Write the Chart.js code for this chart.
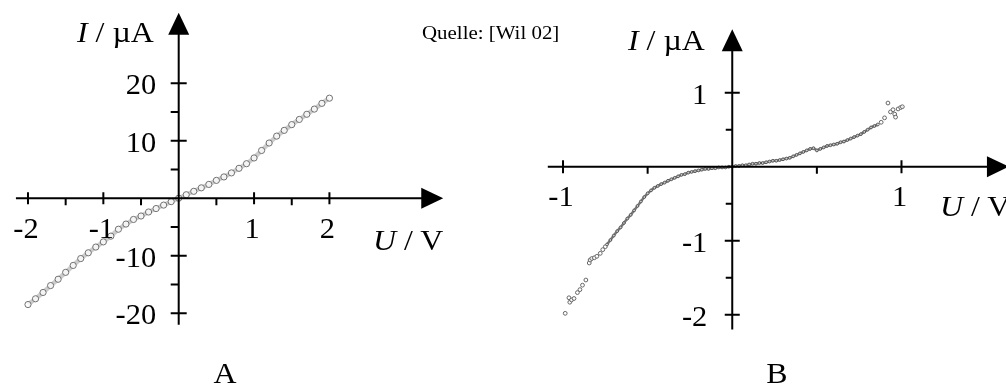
<!DOCTYPE html>
<html>
<head>
<meta charset="utf-8">
<script src="https://cdn.jsdelivr.net/npm/chart.js@4/dist/chart.umd.min.js"></script>
<style>
  html, body { margin: 0; padding: 0; background: #fff; width: 1006px; height: 388px; overflow: hidden; }
  .panel { position: absolute; top: 0; height: 388px; }
  #boxA { left: 0; width: 470px; }
  #boxB { left: 480px; width: 526px; }
  .lbl { position: absolute; font-family: "Liberation Serif", "Times New Roman", serif; color: #000;
         white-space: nowrap; line-height: 1; transform-origin: left center; z-index: 2; }
  .title { font-size: 29px; transform: scaleX(1.1); }
  .letter { font-size: 29px; transform: translateX(-50%) scaleX(1.1); transform-origin: center; }
  .src { font-size: 19px; transform: scaleX(1.1); }
</style>
</head>
<body>
<div class="panel" id="boxA"><canvas id="chartA" width="470" height="388"></canvas></div>
<div class="panel" id="boxB"><canvas id="chartB" width="526" height="388"></canvas></div>

<div class="lbl src" style="left:422px;top:23px;">Quelle: [Wil 02]</div>
<div class="lbl title" style="left:77px;top:18px;"><i>I</i> / µA</div>
<div class="lbl title" style="left:373px;top:226px;"><i>U</i> / V</div>
<div class="lbl letter" style="left:225px;top:359px;">A</div>
<div class="lbl title" style="left:628px;top:26px;"><i>I</i> / µA</div>
<div class="lbl title" style="left:940px;top:192px;"><i>U</i> / V</div>
<div class="lbl letter" style="left:777px;top:359px;">B</div>

<script>
// ---- Kennlinie A: U in V, I in µA ----
const voltageA = [-2.0, -1.9, -1.8, -1.7, -1.6, -1.5, -1.4, -1.3, -1.2, -1.1, -1.0,
                  -0.9, -0.8, -0.7, -0.6, -0.5, -0.4, -0.3, -0.2, -0.1, 0.0,
                  0.1, 0.2, 0.3, 0.4, 0.5, 0.6, 0.7, 0.8, 0.9, 1.0,
                  1.1, 1.2, 1.3, 1.4, 1.5, 1.6, 1.7, 1.8, 1.9, 2.0];
const currentA = [-18.5, -17.5, -16.4, -15.2, -14.1, -12.9, -11.7, -10.5, -9.5, -8.5, -7.6,
                  -6.6, -5.4, -4.5, -3.7, -3.1, -2.4, -1.8, -1.2, -0.6, 0.0,
                  0.6, 1.2, 1.8, 2.4, 3.1, 3.7, 4.4, 5.2, 6.0, 7.0,
                  8.3, 9.6, 10.8, 11.8, 12.8, 13.7, 14.6, 15.5, 16.5, 17.4];

// ---- Kennlinie B: dichte Messreihe ----
const voltageB = [-0.74, -0.72, -0.70, -0.68, -0.66, -0.64, -0.62, -0.60, -0.58, -0.56,
                  -0.54, -0.52, -0.50, -0.48, -0.46, -0.44, -0.42, -0.40, -0.38, -0.36,
                  -0.34, -0.32, -0.30, -0.28, -0.26, -0.24, -0.22, -0.20, -0.18, -0.16,
                  -0.14, -0.12, -0.10, -0.08, -0.06, -0.04, -0.02, 0.00, 0.02, 0.04,
                  0.06, 0.08, 0.10, 0.12, 0.14, 0.16, 0.18, 0.20, 0.22, 0.24,
                  0.26, 0.28, 0.30, 0.32, 0.34, 0.36, 0.38, 0.40, 0.42, 0.44,
                  0.46, 0.48, 0.50, 0.52, 0.54, 0.56, 0.58, 0.60, 0.62, 0.64,
                  0.66, 0.68, 0.70, 0.72, 0.74, 0.76, 0.78, 0.80, 0.82, 0.84, 0.86];
const currentB = [-1.05, -0.99, -0.93, -0.87, -0.82, -0.76, -0.70, -0.65, -0.59, -0.53,
                  -0.47, -0.41, -0.36, -0.32, -0.285, -0.26, -0.235, -0.215, -0.19, -0.17,
                  -0.15, -0.13, -0.11, -0.10, -0.08, -0.07, -0.06, -0.05, -0.04, -0.03,
                  -0.03, -0.02, -0.02, -0.01, -0.01, -0.01, 0.00, 0.00, 0.01, 0.01,
                  0.02, 0.02, 0.03, 0.04, 0.04, 0.05, 0.05, 0.06, 0.07, 0.08,
                  0.08, 0.09, 0.10, 0.11, 0.12, 0.14, 0.16, 0.18, 0.20, 0.22,
                  0.24, 0.25, 0.22, 0.24, 0.26, 0.28, 0.29, 0.30, 0.31, 0.33,
                  0.34, 0.36, 0.38, 0.40, 0.42, 0.44, 0.47, 0.50, 0.53, 0.55, 0.57];

// ---- Kennlinie B: vereinzelte Messpunkte an den Rändern ----
const voltageBSparse = [-0.987, -0.965, -0.96, -0.95, -0.935, -0.915, -0.90, -0.885, -0.865,
                        -0.845, -0.84, -0.83, -0.815, -0.80, -0.78, -0.765, -0.75,
                        0.88, 0.90, 0.92, 0.935, 0.95, 0.96, 0.965, 0.98, 0.995, 1.005];
const currentBSparse = [-1.98, -1.77, -1.83, -1.80, -1.78, -1.70, -1.66, -1.60, -1.53,
                        -1.30, -1.26, -1.24, -1.23, -1.21, -1.17, -1.12, -1.08,
                        0.60, 0.66, 0.86, 0.74, 0.77, 0.71, 0.67, 0.78, 0.80, 0.81];

// ---- Achsenteilung ----
const xTickLabelsA = [-2, -1, 1, 2];
const xMinorTicksA = [-1.5, -0.5, 0.5, 1.5];
const yTickLabelsA = [-20, -10, 10, 20];
const yMinorTicksA = [-15, -5, 5, 15];

const xTickLabelsB = [-1, 1];
const xMinorTicksB = [-0.5, 0.5];
const yTickLabelsB = [-2, -1, 1];
const yMinorTicksB = [-1.5, -0.5, 0.5];

const pairs = (xs, ys) => xs.map((v, i) => ({ x: v, y: ys[i] }));

// Draws axes through the origin with arrow heads, crossing ticks and serif tick labels.
function crossAxes(cfg) {
  return {
    id: 'crossAxes',
    afterDatasetsDraw(chart) {
      const { ctx, scales: { x, y } } = chart;
      const X = v => x.getPixelForValue(v);
      const Y = v => y.getPixelForValue(v);
      const x0 = X(0), y0 = Y(0);
      const head = 22, half = 10.5;
      ctx.save();
      ctx.strokeStyle = '#000';
      ctx.fillStyle = '#000';
      ctx.lineWidth = 2;

      ctx.beginPath();
      ctx.moveTo(X(cfg.xFrom), y0); ctx.lineTo(X(cfg.xTo) - head + 2, y0);
      ctx.moveTo(x0, Y(cfg.yFrom)); ctx.lineTo(x0, Y(cfg.yTo) + head - 2);
      ctx.stroke();

      const xt = X(cfg.xTo), yt = Y(cfg.yTo);
      ctx.beginPath();
      ctx.moveTo(xt, y0); ctx.lineTo(xt - head, y0 - half); ctx.lineTo(xt - head, y0 + half); ctx.closePath();
      ctx.fill();
      ctx.beginPath();
      ctx.moveTo(x0, yt); ctx.lineTo(x0 - half, yt + head); ctx.lineTo(x0 + half, yt + head); ctx.closePath();
      ctx.fill();

      ctx.beginPath();
      cfg.xMajor.forEach(v => { ctx.moveTo(X(v), y0 - cfg.xMaj); ctx.lineTo(X(v), y0 + cfg.xMaj); });
      cfg.xMinor.forEach(v => { ctx.moveTo(X(v), y0); ctx.lineTo(X(v), y0 + cfg.xMin); });
      cfg.yMajor.forEach(v => { ctx.moveTo(x0 - cfg.yMaj, Y(v)); ctx.lineTo(x0 + cfg.yMaj, Y(v)); });
      cfg.yMinor.forEach(v => { ctx.moveTo(x0 - cfg.yMin, Y(v)); ctx.lineTo(x0, Y(v)); });
      ctx.stroke();

      ctx.font = '29px "Liberation Serif", "Times New Roman", serif';
      ctx.textBaseline = 'alphabetic';
      const put = (text, px, py, align) => {
        ctx.save();
        ctx.translate(px, py);
        ctx.scale(1.05, 1);
        ctx.textAlign = align;
        ctx.fillText(text, 0, 0);
        ctx.restore();
      };
      cfg.xMajor.forEach(v => put(String(v), X(v) - 2, y0 + cfg.xLabelDrop, 'center'));
      cfg.yMajor.forEach(v => put(String(v), x0 - cfg.yLabelGap, Y(v) + 11, 'right'));
      ctx.restore();
    }
  };
}

function baseOptions(xMin, xMax, yMin, yMax) {
  return {
    responsive: false,
    animation: false,
    events: [],
    layout: { padding: 0 },
    plugins: { legend: { display: false }, tooltip: { enabled: false } },
    scales: {
      x: { type: 'linear', display: false, min: xMin, max: xMax },
      y: { type: 'linear', display: false, min: yMin, max: yMax }
    }
  };
}

new Chart(document.getElementById('chartA'), {
  type: 'scatter',
  data: {
    datasets: [{
      data: pairs(voltageA, currentA),
      showLine: true,
      borderColor: 'rgba(170,170,170,0.6)',
      borderWidth: 4.5,
      pointRadius: 3.1,
      pointBorderWidth: 1,
      pointBorderColor: '#707070',
      pointBackgroundColor: 'rgba(255,255,255,0.8)'
    }]
  },
  options: baseOptions(-2.305, 3.799, -32.15, 33.61),
  plugins: [crossAxes({
    xFrom: -2.16, xTo: 3.51, yFrom: -22.0, yTo: 32.25,
    xMajor: xTickLabelsA, xMinor: xMinorTicksA,
    yMajor: yTickLabelsA, yMinor: yMinorTicksA,
    xMaj: 6, xMin: 7, yMaj: 8, yMin: 8,
    xLabelDrop: 40, yLabelGap: 22.5
  })]
});

new Chart(document.getElementById('chartB'), {
  type: 'scatter',
  data: {
    datasets: [{
      data: pairs(voltageB, currentB),
      showLine: true,
      borderColor: 'rgba(95,95,95,0.85)',
      borderWidth: 2.5,
      pointRadius: 1.4,
      pointBorderWidth: 1,
      pointBorderColor: '#555',
      pointBackgroundColor: 'rgba(255,255,255,0.6)'
    }, {
      data: pairs(voltageBSparse, currentBSparse),
      showLine: false,
      pointRadius: 1.9,
      pointBorderWidth: 1,
      pointBorderColor: '#666',
      pointBackgroundColor: 'rgba(255,255,255,0.8)'
    }]
  },
  options: baseOptions(-1.461, 1.588, -2.921, 2.184),
  plugins: [crossAxes({
    xFrom: -1.09, xTo: 1.635, yFrom: -2.197, yTo: 1.855,
    xMajor: xTickLabelsB, xMinor: xMinorTicksB,
    yMajor: yTickLabelsB, yMinor: yMinorTicksB,
    xMaj: 6.5, xMin: 7, yMaj: 7.5, yMin: 6.5,
    xLabelDrop: 39, yLabelGap: 25
  })]
});
</script>
</body>
</html>
